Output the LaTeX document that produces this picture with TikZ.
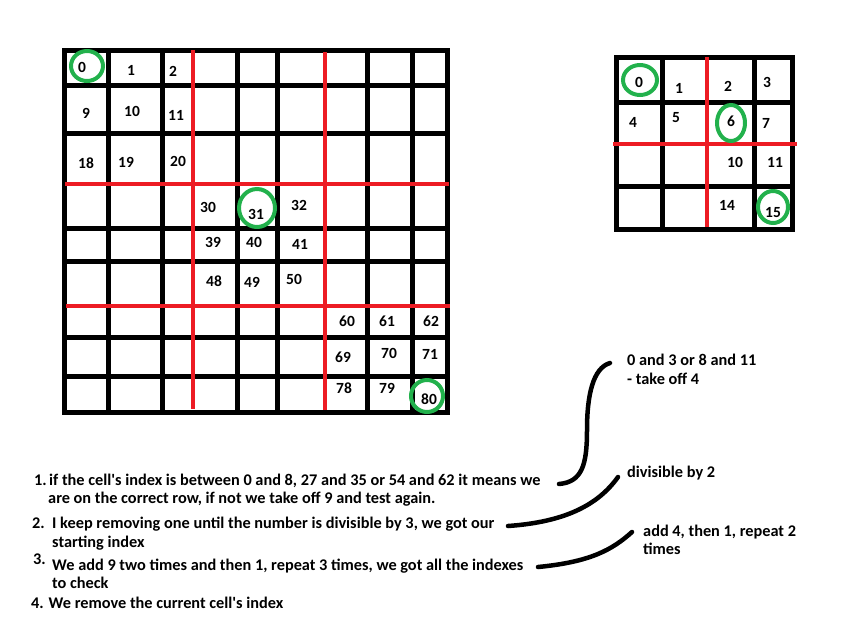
\documentclass[tikz,border=0pt]{standalone}
\usepackage{fontspec}
\setmainfont{Carlito}
\definecolor{paintred}{RGB}{237,28,36}
\definecolor{paintgreen}{RGB}{34,177,76}
\tikzset{
    gridline/.style={line width=5pt, black, line cap=rect},
    splitline/.style={line width=4pt, paintred},
    ringline/.style={line width=4pt, paintgreen},
    num/.style={font=\bfseries\fontsize{15.5}{17}\selectfont, inner sep=0pt},
    note/.style={font=\bfseries\fontsize{16.3}{18}\selectfont, inner sep=0pt, anchor=base west},
    link/.style={line width=4.5pt, line cap=round}
}
\newcommand{\cellnum}[4]{
    \node[num] (#1) at (#2,#3) {#4};
}
\newcommand{\ring}[5]{
    \draw[ringline] (#2,#3) ellipse [x radius=#4, y radius=#5];
    \coordinate (#1) at (#2,#3);
}
\newcommand{\noteline}[4]{
    \node[note] (#1) at (#2,#3) {#4};
}

\begin{document}
\begin{tikzpicture}[x=1pt,y=-1pt]
    \useasboundingbox (0,0) rectangle (851,638);

    % Big grid: black lines, red where the blocks split
    \foreach \x in {108,162,237,277,367,412}
        \draw[gridline] (\x,50) -- (\x,412);
    \foreach \y in {85,133,228,261,337,376}
        \draw[gridline] (64,\y) -- (447,\y);
    \draw[gridline] (64,50) rectangle (447,412);
    \draw[splitline] (193,50) -- (193,409);
    \draw[splitline] (325,52) -- (325,410);
    \draw[splitline] (65,184) -- (449,184);
    \draw[splitline] (66,306) -- (450,306);

    % Big grid indexes
    \cellnum{b0}{82}{67}{0}
    \cellnum{b1}{131}{70}{1}
    \cellnum{b2}{173}{71}{2}
    \cellnum{b9}{86}{113}{9}
    \cellnum{b10}{132}{111}{10}
    \cellnum{b11}{176}{115}{11}
    \cellnum{b18}{86}{163}{18}
    \cellnum{b19}{126}{162}{19}
    \cellnum{b20}{178}{161}{20}
    \cellnum{b30}{208}{207}{30}
    \cellnum{b31}{256}{214}{31}
    \cellnum{b32}{299}{205}{32}
    \cellnum{b39}{213}{242}{39}
    \cellnum{b40}{254}{242}{40}
    \cellnum{b41}{300}{244}{41}
    \cellnum{b48}{214}{281}{48}
    \cellnum{b49}{252}{282}{49}
    \cellnum{b50}{294}{279}{50}
    \cellnum{b60}{347}{321}{60}
    \cellnum{b61}{387}{321}{61}
    \cellnum{b62}{431}{321}{62}
    \cellnum{b69}{343}{357}{69}
    \cellnum{b70}{389}{353}{70}
    \cellnum{b71}{430}{354}{71}
    \cellnum{b78}{344}{388}{78}
    \cellnum{b79}{387}{388}{79}
    \cellnum{b80}{429}{399}{80}

    \ring{rb0}{87}{66}{16}{15}
    \ring{rb31}{257}{208}{18}{19}
    \ring{rb80}{427}{396}{16}{16}

    % Small grid
    \foreach \x in {662,754}
        \draw[gridline] (\x,57) -- (\x,229);
    \foreach \y in {102,186}
        \draw[gridline] (616,\y) -- (792,\y);
    \draw[gridline] (616,57) rectangle (792,229);
    \draw[splitline] (707,57) -- (707,227);
    \draw[splitline] (613,144) -- (797,144);

    \cellnum{s0}{639}{82}{0}
    \cellnum{s1}{679}{88}{1}
    \cellnum{s2}{728}{86}{2}
    \cellnum{s3}{767}{82}{3}
    \cellnum{s4}{633}{122}{4}
    \cellnum{s5}{676}{118}{5}
    \cellnum{s6}{731}{121}{6}
    \cellnum{s7}{766}{123}{7}
    \cellnum{s10}{735}{162}{10}
    \cellnum{s11}{775}{162}{11}
    \cellnum{s14}{727}{205}{14}
    \cellnum{s15}{773}{213}{15}

    \ring{rs0}{640}{80}{17}{15}
    \ring{rs6}{731}{123}{14}{18}
    \ring{rs15}{773}{207}{15}{16}

    % Steps
    \noteline{k1}{34}{485}{1.}
    \noteline{t1a}{49}{485}{if the cell\textquotesingle s index is between 0 and 8, 27 and 35 or 54 and 62 it means we}
    \noteline{t1b}{48}{503}{are on the correct row, if not we take off 9 and test again.}
    \noteline{k2}{32}{528}{2.}
    \noteline{t2a}{52}{528}{I keep removing one until the number is divisible by 3, we got our}
    \noteline{t2b}{52}{547}{starting index}
    \noteline{k3}{33}{564}{3.}
    \noteline{t3a}{52}{570}{We add 9 two times and then 1, repeat 3 times, we got all the indexes}
    \noteline{t3b}{52}{588}{to check}
    \noteline{t4}{31}{608}{4. We remove the current cell\textquotesingle s index}

    % Side notes
    \noteline{m1a}{627}{365}{0 and 3 or 8 and 11}
    \noteline{m1b}{627}{384}{- take off 4}
    \noteline{m2}{627}{477}{divisible by 2}
    \noteline{m3a}{643}{536}{add 4, then 1, repeat 2}
    \noteline{m3b}{643}{554}{times}

    % Links from steps to notes
    \coordinate (l1s) at (559,484);
    \coordinate (l1e) at (610,363);
    \coordinate (l2s) at (508,526);
    \coordinate (l2e) at (618,477);
    \coordinate (l3s) at (538,567);
    \coordinate (l3e) at (632,532);
    \draw[link] (l1s) .. controls (582,482) and (587,465) .. (587,430)
        .. controls (587,395) and (593,368) .. (l1e);
    \draw[link] (l2s) .. controls (565,522) and (598,505) .. (l2e);
    \draw[link] (l3s) .. controls (590,562) and (612,550) .. (l3e);
\end{tikzpicture}
\end{document}
